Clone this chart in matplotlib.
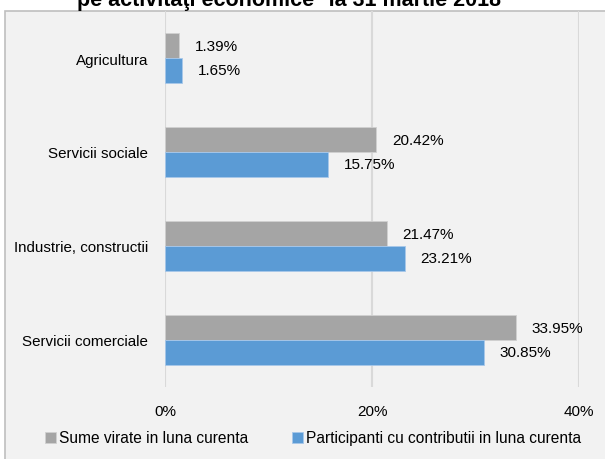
import matplotlib.pyplot as plt
import matplotlib.patches as mpatches
import numpy as np

plt.rcParams['font.family'] = ['Liberation Sans Narrow', 'Liberation Sans', 'DejaVu Sans']

categories = ['Servicii comerciale', 'Industrie, constructii', 'Servicii sociale', 'Agricultura']
sume = [33.95, 21.47, 20.42, 1.39]
participanti = [30.85, 23.21, 15.75, 1.65]
series_names = ['Sume virate in luna curenta', 'Participanti cu contributii in luna curenta']
xticks = [0, 20, 40]

gray = '#a5a5a5'
blue = '#5b9bd5'
bg = '#f2f2f2'

W, H = 605, 460
fig = plt.figure(figsize=(W / 100, H / 100), dpi=100)
fig.patch.set_facecolor('white')

# chart frame (right/bottom edges run off the picture)
frame = mpatches.Rectangle((5 / W, -0.1), 1.2, 1 - 12 / H + 0.1, transform=fig.transFigure,
                           facecolor=bg, edgecolor='#bfbfbf', lw=1.2, zorder=-5)
fig.patches.append(frame)

fig.text(289 / W, 1 - 6 / H, 'pe activitaţi economice* la 31 martie 2018', ha='center', va='baseline',
         fontsize=15.5, fontweight='bold', color='black')

ax = fig.add_axes([165 / W, 1 - 388 / H, (579 - 165) / W, (388 - 12) / H])
ax.patch.set_alpha(0)

y = np.arange(len(categories))
h = 0.265
ax.barh(y + h / 2, sume, height=h, color=gray, edgecolor='#d0d0d0', lw=0.6, zorder=3, label=series_names[0])
ax.barh(y - h / 2, participanti, height=h, color=blue, edgecolor='#a8c8ea', lw=0.6, zorder=3, label=series_names[1])

for yi, v in zip(y, sume):
    ax.text(v + 1.5, yi + h / 2, f'{v:.2f}%', va='center', ha='left', fontsize=11)
for yi, v in zip(y, participanti):
    ax.text(v + 1.5, yi - h / 2, f'{v:.2f}%', va='center', ha='left', fontsize=11)

ax.set_xlim(0, 40)
ax.set_ylim(-0.5, len(categories) - 0.5)
ax.set_xticks(xticks)
ax.set_xticklabels([f'{t}%' for t in xticks], fontsize=11)
ax.set_yticks(y)
ax.set_yticklabels(categories, fontsize=10.9)
ax.tick_params(length=0)
ax.tick_params(axis='x', pad=12)
ax.tick_params(axis='y', pad=12)
for s in ax.spines.values():
    s.set_visible(False)
ax.grid(axis='x', color='#d9d9d9', lw=1.5, zorder=0)

handles, labels = ax.get_legend_handles_labels()
fig.legend(handles, labels, loc='center', bbox_to_anchor=(313 / W, 1 - 439 / H), ncol=2,
           frameon=False, fontsize=11.2, handlelength=0.7, handleheight=0.7, handletextpad=0.2,
           columnspacing=2.8)

fig.savefig('out.png', dpi=100, facecolor='white')
